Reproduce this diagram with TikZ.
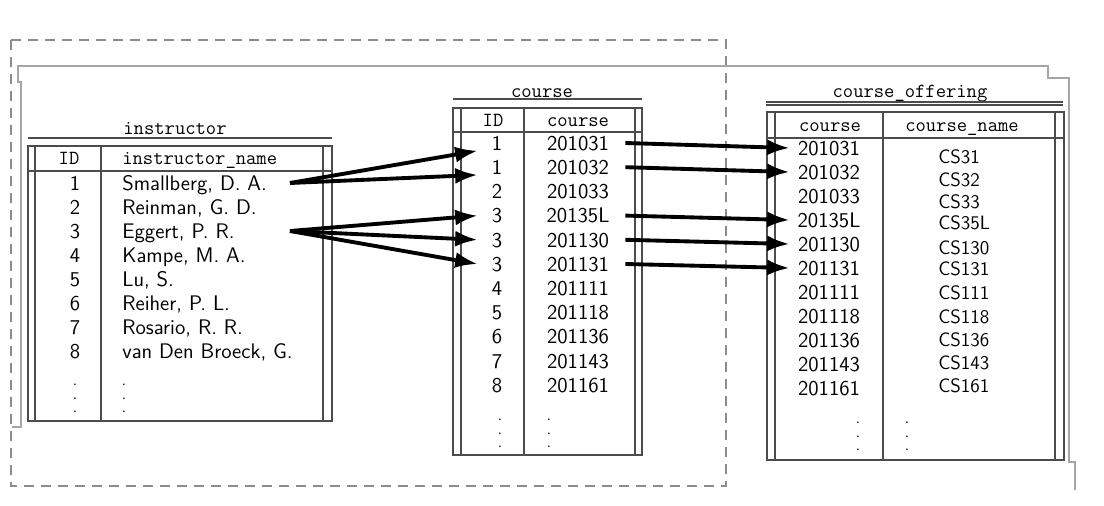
\documentclass[tikz,border=0pt]{standalone}
\usetikzlibrary{arrows.meta}
\begin{document}
\begin{tikzpicture}[
		x=0.02cm, y=-0.02cm,
		every node/.style={inner sep=0pt},
		tabtitle/.style={font=\ttfamily\fontsize{11.4}{12}\selectfont, text height=7pt, text depth=0pt},
		colhead/.style={tabtitle},
		cell/.style={font=\sffamily\fontsize{12}{14}\selectfont, text height=8.4pt, text depth=0pt},
		namecell/.style={cell, anchor=west},
		idcell/.style={cell, minimum width=0.76cm},
		crscell/.style={cell, minimum width=1.88cm},
		offcell/.style={cell, minimum width=1.56cm},
		cscell/.style={font=\sffamily\fontsize{11}{13}\selectfont, text height=7.7pt, text depth=0pt, anchor=west},
		dotcell/.style={font=\sffamily\bfseries\fontsize{6}{6}\selectfont},
		rule/.style={black!70, line width=0.8pt},
		frame/.style={black!35, line width=0.8pt},
		dashbox/.style={black!45, line width=1.1pt, dash pattern=on 0.2cm off 0.14cm},
		link/.style={line width=2.2pt, -{Latex[length=0.45cm,width=0.32cm]}}
	]
	\useasboundingbox (0,0) rectangle (1104,506);
	\draw[dashbox] (11,40) rectangle (726,486);
	\draw[frame] (12,427) -- (21,427) -- (21,82) -- (18,82) -- (18,66) -- (1048,66) -- (1048,78)
		-- (1069,78) -- (1069,462) -- (1075,462) -- (1075,490);

	% instructor
	\node[tabtitle] (itab) at (175,128) {instructor};
	\draw[rule] (28,138) -- (332,138);
	\draw[rule] (28,146) rectangle (332,421);
	\draw[rule] (35,146) -- (35,421) (101,146) -- (101,421) (323,146) -- (323,421) (28,171) -- (332,171);
	\node[colhead] (ihid) at (69,158) {ID};
	\node[colhead, anchor=west] (ihname) at (122,158) {instructor\_name};
	\foreach \name [count=\i] in {{Smallberg, D. A.},{Reinman, G. D.},{Eggert, P. R.},{Kampe, M. A.},
			{Lu, S.},{Reiher, P. L.},{Rosario, R. R.},{van Den Broeck, G.}}{
		\node[idcell] (iid\i) at (75,{183+24*(\i-1)}) {\i};
		\node[namecell] (i\i) at (122,{183+24*(\i-1)}) {\name};
	}
	\foreach \k in {0,1,2}{
		\node[dotcell] (idota\k) at (75,{385+13.5*\k}) {.};
		\node[dotcell] (idotb\k) at (124,{385+13.5*\k}) {.};
	}
	\coordinate (istart) at (290,0);

	% course
	\node[tabtitle] (ctab) at (542,91) {course};
	\draw[rule] (453,99) -- (642,99);
	\draw[rule] (453,108) rectangle (642,455);
	\draw[rule] (461,108) -- (461,455) (524,108) -- (524,455) (635,108) -- (635,455) (453,132) -- (642,132);
	\node[colhead] (chid) at (493,120) {ID};
	\node[colhead] (chcrs) at (578,120) {course};
	\foreach \id/\crs [count=\i] in {1/201031,1/201032,2/201033,3/20135L,3/201130,3/201131,
			4/201111,5/201118,6/201136,7/201143,8/201161}{
		\node[idcell] (cid\i) at (497,{143+24.2*(\i-1)}) {\id};
		\node[crscell] (crs\i) at (578,{143+24.2*(\i-1)}) {\crs};
	}
	\foreach \k in {0,1,2}{
		\node[dotcell] (cdota\k) at (500,{420+13.5*\k}) {.};
		\node[dotcell] (cdotb\k) at (549,{420+13.5*\k}) {.};
	}

	% course_offering
	\node[tabtitle] (otab) at (910,91) {course\_offering};
	\draw[rule] (766,102) -- (1063,102) (766,105) -- (1063,105);
	\draw[rule] (767,112) rectangle (1064,460);
	\draw[rule] (775,112) -- (775,460) (883,112) -- (883,460) (1055,112) -- (1055,460) (767,138) -- (1064,138);
	\node[colhead] (ohcrs) at (830,125) {course};
	\node[colhead] (ohname) at (962,125) {course\_name};
	\foreach \crs/\cs/\ny [count=\i] in {201031/CS31/157,201032/CS32/180,201033/CS33/202,20135L/CS35L/223,
			201130/CS130/248,201131/CS131/269,201111/CS111/293,201118/CS118/317,201136/CS136/340,
			201143/CS143/363,201161/CS161/386}{
		\node[offcell] (off\i) at (829,{148+24*(\i-1)}) {\crs};
		\node[cscell] (cs\i) at (938,\ny) {\cs};
	}
	\foreach \k in {0,1,2}{
		\node[dotcell] (odota\k) at (858,{423+13.5*\k}) {.};
		\node[dotcell] (odotb\k) at (907,{423+13.5*\k}) {.};
	}

	% links
	\draw[link] (i1 -| istart) -- (cid1.south west);
	\draw[link] (i1 -| istart) -- (cid2.south west);
	\draw[link] (i3 -| istart) -- (cid4.west);
	\draw[link] (i3 -| istart) -- (cid5.west);
	\draw[link] (i3 -| istart) -- (cid6.west);
	\draw[link] (crs1.east) -- (off1.west);
	\draw[link] (crs2.east) -- (off2.west);
	\draw[link] (crs4.east) -- (off4.west);
	\draw[link] (crs5.east) -- (off5.west);
	\draw[link] (crs6.east) -- (off6.west);
\end{tikzpicture}
\end{document}
